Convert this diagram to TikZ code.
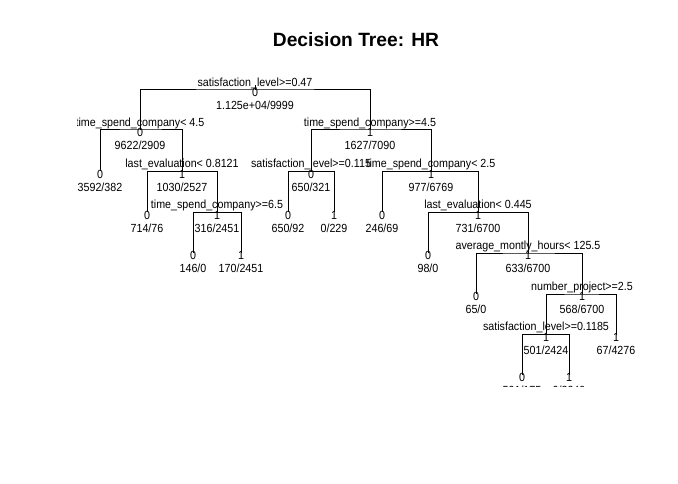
\documentclass[tikz,border=0pt]{standalone}
\usepackage{fontspec}
\setmainfont{Liberation Sans}
\newcommand{\lblfont}{\fontsize{10.7}{12}\selectfont}
\newcommand{\tallx}[1]{\scalebox{1}[1.1]{#1}}
\newcommand{\mytreenode}[6]{%
  \coordinate (#1) at (#2,#3);
  \ifx\relax#4\relax\else
    \node[spl] (#1s) at (#2,#3-7) {\tallx{#4}};
  \fi
  \node[cls] (#1c) at (#2,#3+2.8) {\tallx{#5}};
  \node[cnt] (#1n) at (#2,#3+15.5) {\tallx{#6}};
}
\begin{document}
\begin{tikzpicture}[x=1pt,y=-1pt,
  spl/.style={font=\lblfont, inner sep=0pt, anchor=center},
  cls/.style={font=\lblfont, inner sep=0pt, anchor=center},
  cnt/.style={font=\lblfont, inner sep=0pt, anchor=center},
  edge/.style={draw=black, line width=1pt},
  ttl/.style={font=\fontsize{19.2}{22}\selectfont\bfseries, inner sep=0pt, anchor=base}]
\useasboundingbox[fill=white] (0,0) rectangle (678,484);
\node[ttl] (title) at (356,47) {Decision Tree: HR};
\begin{scope}
\clip (77.5,77) rectangle (638,386.2);
\mytreenode{R}{255}{90}{satisfaction\_level>=0.47}{0}{1.125e+04/9999}
\mytreenode{A}{140}{130}{time\_spend\_company< 4.5}{0}{9622/2909}
\mytreenode{B}{370}{130}{time\_spend\_company>=4.5}{1}{1627/7090}
\mytreenode{Aa}{100}{171.5}{}{0}{3592/382}
\mytreenode{C}{182}{171.5}{last\_evaluation< 0.8121}{1}{1030/2527}
\mytreenode{D}{311}{171.5}{satisfaction\_level>=0.115}{0}{650/321}
\mytreenode{E}{431}{171.5}{time\_spend\_company< 2.5}{1}{977/6769}
\mytreenode{Ca}{147}{212.3}{}{0}{714/76}
\mytreenode{F}{217}{212.3}{time\_spend\_company>=6.5}{1}{316/2451}
\mytreenode{Da}{288}{212.3}{}{0}{650/92}
\mytreenode{Db}{334}{212.3}{}{1}{0/229}
\mytreenode{Ea}{382}{212.3}{}{0}{246/69}
\mytreenode{G}{478}{212.3}{last\_evaluation< 0.445}{1}{731/6700}
\mytreenode{Fa}{193}{253}{}{0}{146/0}
\mytreenode{Fb}{241}{253}{}{1}{170/2451}
\mytreenode{Ga}{428}{253}{}{0}{98/0}
\mytreenode{H}{528}{253}{average\_montly\_hours< 125.5}{1}{633/6700}
\mytreenode{Ha}{476}{294}{}{0}{65/0}
\mytreenode{I}{582}{294}{number\_project>=2.5}{1}{568/6700}
\mytreenode{J}{546}{334.5}{satisfaction\_level>=0.1185}{1}{501/2424}
\mytreenode{Ib}{616}{334.5}{}{1}{67/4276}
\mytreenode{Ja}{522}{375}{}{0}{501/175}
\mytreenode{Jb}{569}{375}{}{1}{0/2249}
\coordinate (Rtop) at (255,85.5);
\draw[edge] (R) -- (Rtop);
\draw[edge] (A) |- (R) -| (B);
\draw[edge] (Aa) |- (A) -| (C);
\draw[edge] (D) |- (B) -| (E);
\draw[edge] (Ca) |- (C) -| (F);
\draw[edge] (Da) |- (D) -| (Db);
\draw[edge] (Ea) |- (E) -| (G);
\draw[edge] (Fa) |- (F) -| (Fb);
\draw[edge] (Ga) |- (G) -| (H);
\draw[edge] (Ha) |- (H) -| (I);
\draw[edge] (J) |- (I) -| (Ib);
\draw[edge] (Ja) |- (J) -| (Jb);
\end{scope}
\end{tikzpicture}
\end{document}
